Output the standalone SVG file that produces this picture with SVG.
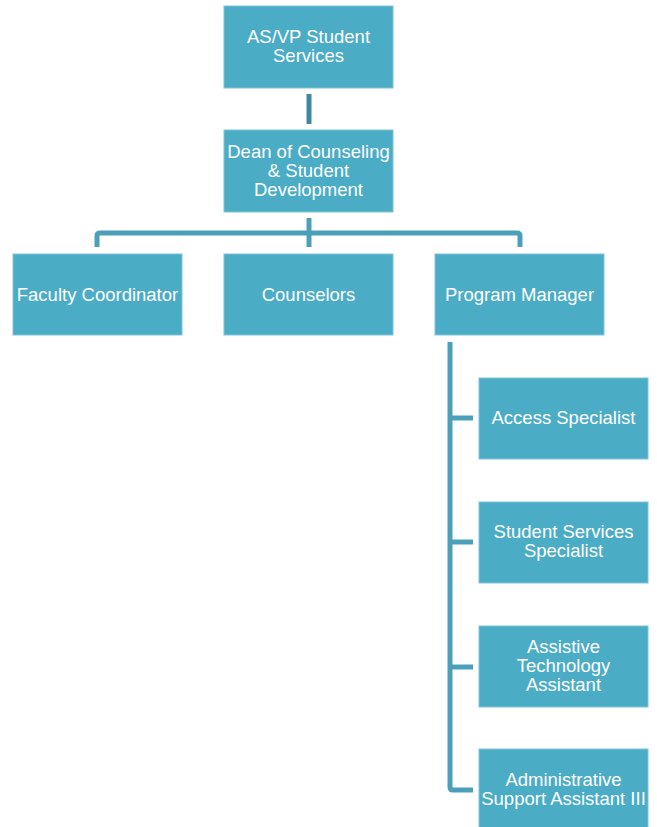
<svg xmlns="http://www.w3.org/2000/svg" width="657" height="827" viewBox="0 0 657 827">
  <style>
    .box { fill: #4bacc6; stroke: #7ec4d7; stroke-width: 1; }
    .lbl { font-family: "Liberation Sans", Arial, sans-serif; font-size: 18.5px; fill: #ffffff; text-anchor: middle; }
    .conn { fill: none; stroke: #4aa0b8; stroke-width: 5; }
    .conn-top { fill: none; stroke: #3d8aa0; stroke-width: 5; }
  </style>
  <rect width="657" height="827" fill="#ffffff"/>

  <g id="connectors">
    <path class="conn-top" d="M309,94 V124"/>
    <path class="conn" d="M309,218 V247"/>
    <path class="conn" d="M97,247 V236 Q97,233 100,233 H517 Q520,233 520,236 V247"/>
    <path class="conn" d="M450,342 V787 Q450,790 453,790 H473"/>
    <path class="conn" d="M450,418 H473"/>
    <path class="conn" d="M450,542 H473"/>
    <path class="conn" d="M450,667 H473"/>
  </g>

  <g id="asvp">
    <rect class="box" x="224" y="6" width="169" height="82"/>
    <text class="lbl" x="308.5" y="43">AS/VP Student</text>
    <text class="lbl" x="308.5" y="62">Services</text>
  </g>

  <g id="dean">
    <rect class="box" x="224" y="130" width="169" height="82"/>
    <text class="lbl" x="308.5" y="158">Dean of Counseling</text>
    <text class="lbl" x="308.5" y="177">&amp; Student</text>
    <text class="lbl" x="308.5" y="196">Development</text>
  </g>

  <g id="faculty-coordinator">
    <rect class="box" x="13" y="254" width="169" height="81"/>
    <text class="lbl" x="97.5" y="301">Faculty Coordinator</text>
  </g>

  <g id="counselors">
    <rect class="box" x="224" y="254" width="169" height="81"/>
    <text class="lbl" x="308.5" y="301">Counselors</text>
  </g>

  <g id="program-manager">
    <rect class="box" x="435" y="254" width="169" height="81"/>
    <text class="lbl" x="519.5" y="301">Program Manager</text>
  </g>

  <g id="access-specialist">
    <rect class="box" x="479" y="378" width="169" height="81"/>
    <text class="lbl" x="563.5" y="424">Access Specialist</text>
  </g>

  <g id="student-services-specialist">
    <rect class="box" x="479" y="502" width="169" height="81"/>
    <text class="lbl" x="563.5" y="538">Student Services</text>
    <text class="lbl" x="563.5" y="557">Specialist</text>
  </g>

  <g id="assistive-technology-assistant">
    <rect class="box" x="479" y="626" width="169" height="81"/>
    <text class="lbl" x="563.5" y="653">Assistive</text>
    <text class="lbl" x="563.5" y="672">Technology</text>
    <text class="lbl" x="563.5" y="691">Assistant</text>
  </g>

  <g id="administrative-support-assistant">
    <rect class="box" x="479" y="749" width="169" height="81"/>
    <text class="lbl" x="563.5" y="786">Administrative</text>
    <text class="lbl" x="563.5" y="805">Support Assistant III</text>
  </g>
</svg>
